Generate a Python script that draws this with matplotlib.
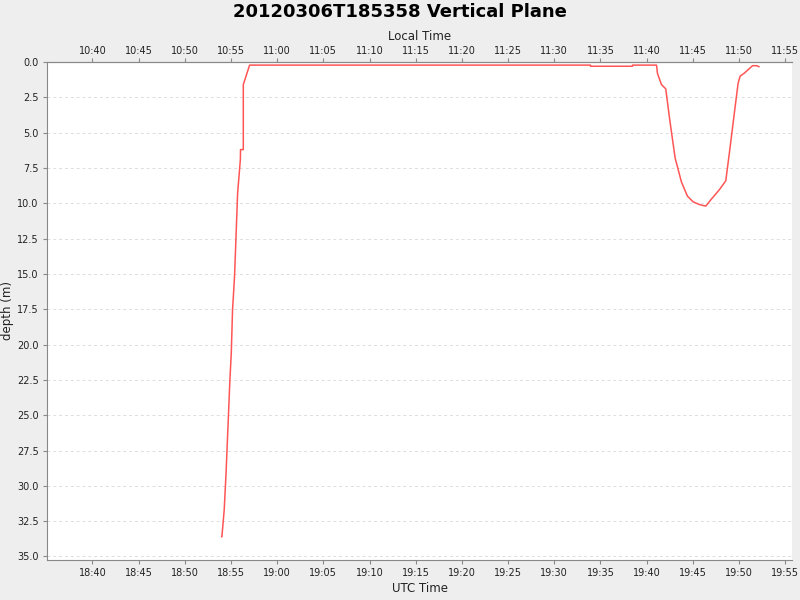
import matplotlib
matplotlib.use("Agg")
import matplotlib.pyplot as plt
import matplotlib.dates as mdates
import matplotlib.ticker as mticker
import pandas as pd

# UTC times (2012-03-06) and depths in metres
utc_times = ["18:54:00", "18:54:01", "18:54:16", "18:54:28", "18:54:44", "18:54:53",
             "18:55:02", "18:55:10", "18:55:23", "18:55:32", "18:55:43", "18:56:01",
             "18:56:02", "18:56:20", "18:56:20", "18:57:01", "19:33:55", "19:33:55",
             "19:38:28", "19:38:28", "19:41:04", "19:41:10", "19:41:36", "19:42:04",
             "19:42:30", "19:43:05", "19:43:46", "19:44:25", "19:45:02", "19:45:45",
             "19:46:24", "19:47:01", "19:47:55", "19:48:34", "19:49:00", "19:49:32",
             "19:49:54", "19:50:07", "19:50:33", "19:51:28", "19:51:54", "19:52:09"]
depths = [33.6, 33.6, 31.7, 29.1, 24.9, 22.5,
          20.6, 17.6, 15.2, 12.6, 9.3, 6.9,
          6.2, 6.2, 1.6, 0.22, 0.22, 0.3,
          0.3, 0.22, 0.22, 0.8, 1.6, 1.9,
          4.1, 6.8, 8.5, 9.5, 9.9, 10.1,
          10.2, 9.7, 9.0, 8.4, 6.2, 3.4,
          1.5, 1.0, 0.8, 0.26, 0.26, 0.33]
x_start, x_end = "18:35:05", "19:55:44"
y_top, y_bottom = 0.0, 35.25
local_offset_hours = -8

title = "20120306T185358 Vertical Plane"

day = "2012-03-06 "
t = pd.to_datetime([day + s for s in utc_times])
xs = mdates.date2num(t.to_pydatetime())

fig = plt.figure(figsize=(8, 6), dpi=100, facecolor="#EEEEEE")
ax = fig.add_axes([47 / 800, 1 - 560 / 600, 745 / 800, 498 / 600])
ax.set_facecolor("white")
ax.plot(xs, depths, color="#FF5555", lw=1.1, zorder=3)

ax.set_xlim(mdates.date2num(pd.Timestamp(day + x_start).to_pydatetime()),
            mdates.date2num(pd.Timestamp(day + x_end).to_pydatetime()))
ax.set_ylim(y_bottom, y_top)

loc = mdates.MinuteLocator(byminute=range(0, 60, 5))
ax.xaxis.set_major_locator(loc)
ax.xaxis.set_major_formatter(mdates.DateFormatter("%H:%M"))
ax.yaxis.set_major_locator(mticker.MultipleLocator(2.5))
ax.yaxis.set_major_formatter(mticker.FormatStrFormatter("%.1f"))

off = local_offset_hours / 24.0
top = ax.secondary_xaxis("top", functions=(lambda v: v + off, lambda v: v - off))
top.xaxis.set_major_locator(mdates.MinuteLocator(byminute=range(0, 60, 5)))
top.xaxis.set_major_formatter(mdates.DateFormatter("%H:%M"))

spine_c = "#888888"
ax.spines["right"].set_visible(False)
for s in ["left", "bottom", "top"]:
    ax.spines[s].set_color(spine_c)
    ax.spines[s].set_zorder(6)
top.spines["top"].set_color(spine_c)

ax.tick_params(colors=spine_c, labelcolor="#222222", labelsize=7, length=3, width=0.8, pad=3)
top.tick_params(colors=spine_c, labelcolor="#222222", labelsize=7, length=3, width=0.8, pad=1.5)

ax.grid(axis="y", color="#DDDDDD", ls=(0, (3, 3)), lw=0.7, zorder=1)
ax.set_axisbelow(True)

ax.set_xlabel("UTC Time", fontsize=8.5, color="#222222", labelpad=3)
top.set_xlabel("Local Time", fontsize=8.5, color="#222222", labelpad=4)
ax.set_ylabel("depth (m)", fontsize=8.5, color="#222222", labelpad=2)
fig.suptitle(title, fontsize=13, fontweight="bold", y=0.995)

fig.savefig("out.png", dpi=100, facecolor=fig.get_facecolor())
